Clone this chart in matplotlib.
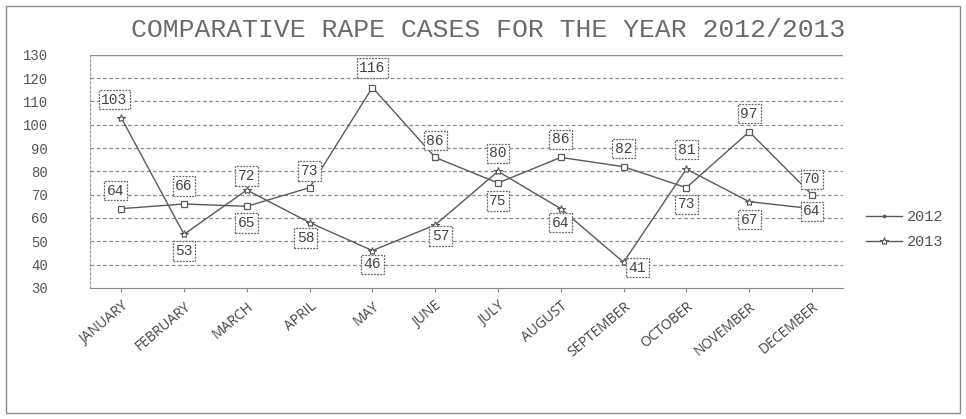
import numpy as np
import matplotlib.pyplot as plt
from matplotlib.patches import Rectangle
from matplotlib.lines import Line2D

months = ['JANUARY', 'FEBRUARY', 'MARCH', 'APRIL', 'MAY', 'JUNE', 'JULY',
          'AUGUST', 'SEPTEMBER', 'OCTOBER', 'NOVEMBER', 'DECEMBER']
cases_2012 = [64, 66, 65, 73, 116, 86, 75, 86, 82, 73, 97, 70]
cases_2013 = [103, 53, 72, 58, 46, 57, 80, 64, 41, 81, 67, 64]
yticks = list(range(30, 131, 10))

# label offsets (points) for each data label
off_2012 = [(-4, 13), (0, 13), (0, -12), (0, 12), (0, 14), (0, 12),
            (0, -13), (0, 13), (0, 13), (0, -12), (0, 13), (0, 11)]
off_2013 = [(-5, 13), (0, -12), (0, 10), (-3, -11), (0, -10), (4, -8),
            (0, 13), (0, -10), (10, -4), (0, 14), (0, -13), (0, -2)]

mono = 'Liberation Mono'
grey = '#5a5a5a'

fig = plt.figure(figsize=(9.66, 4.19), dpi=100)
fig.patches.append(Rectangle((0.006, 0.014), 0.988, 0.972, transform=fig.transFigure,
                             fill=False, ec='#8a8a8a', lw=1.0))

ax = fig.add_axes([0.093, 0.313, 0.78, 0.556])
x = np.arange(len(months))

ax.plot(x, cases_2012, color=grey, lw=1.0, marker='s', ms=5, mfc='white',
        mec=grey, mew=0.9, label='2012', zorder=3)
ax.plot(x, cases_2013, color=grey, lw=1.0, marker='*', ms=6, mfc='white',
        mec=grey, mew=0.8, label='2013', zorder=3)

box = dict(boxstyle='square,pad=0.18', fc='white', ec='#666666', lw=0.9, ls=(0, (1.5, 1)))
for xs, vals, offs in [(x, cases_2012, off_2012), (x, cases_2013, off_2013)]:
    for xi, v, o in zip(xs, vals, offs):
        ax.annotate(str(v), (xi, v), xytext=o, textcoords='offset points',
                    ha='center', va='center', fontsize=10.5, family=mono,
                    color='#444444', bbox=box, zorder=4)

ax.set_xlim(-0.5, len(months) - 0.5)
ax.set_ylim(30, 130)
ax.set_yticks(yticks)
ax.set_yticklabels([str(t) for t in yticks], family=mono, fontsize=10, color='#555555')
ax.set_xticks(x)
ax.set_xticklabels(months, rotation=40, ha='right', rotation_mode='anchor',
                   fontsize=10, family='Open Sans', color='#444444')
ax.tick_params(axis='y', length=0, pad=30)
ax.tick_params(axis='x', length=3, color='#888888', pad=5)

for t in yticks[1:-1]:
    ax.axhline(t, color='#8c8c8c', lw=0.9, ls=(0, (3, 2)), zorder=1)
ax.axhline(130, color='#8c8c8c', lw=1.0, zorder=1)

for s in ['top', 'right']:
    ax.spines[s].set_visible(False)
ax.spines['left'].set_color('#999999')
ax.spines['left'].set_linestyle((0, (2, 2)))
ax.spines['bottom'].set_color('#888888')
ax.spines['bottom'].set_linestyle((0, (3, 1)))

fig.text(0.505, 0.928, 'COMPARATIVE RAPE CASES FOR THE YEAR 2012/2013',
         ha='center', va='center', family=mono, fontsize=19, color='#6a6a6a')

handles = [Line2D([], [], color=grey, lw=1.0, marker='s', ms=2, mfc=grey, mec=grey),
           Line2D([], [], color=grey, lw=1.0, marker='*', ms=6, mfc='white', mec=grey, mew=0.8)]
fig.legend(handles, ['2012', '2013'], loc='center left', bbox_to_anchor=(0.882, 0.452),
           frameon=False, prop={'family': mono, 'size': 11}, handlelength=2.4,
           labelspacing=0.7, handletextpad=0.3, labelcolor='#555555')

fig.savefig('out.png', dpi=100, facecolor='white')
